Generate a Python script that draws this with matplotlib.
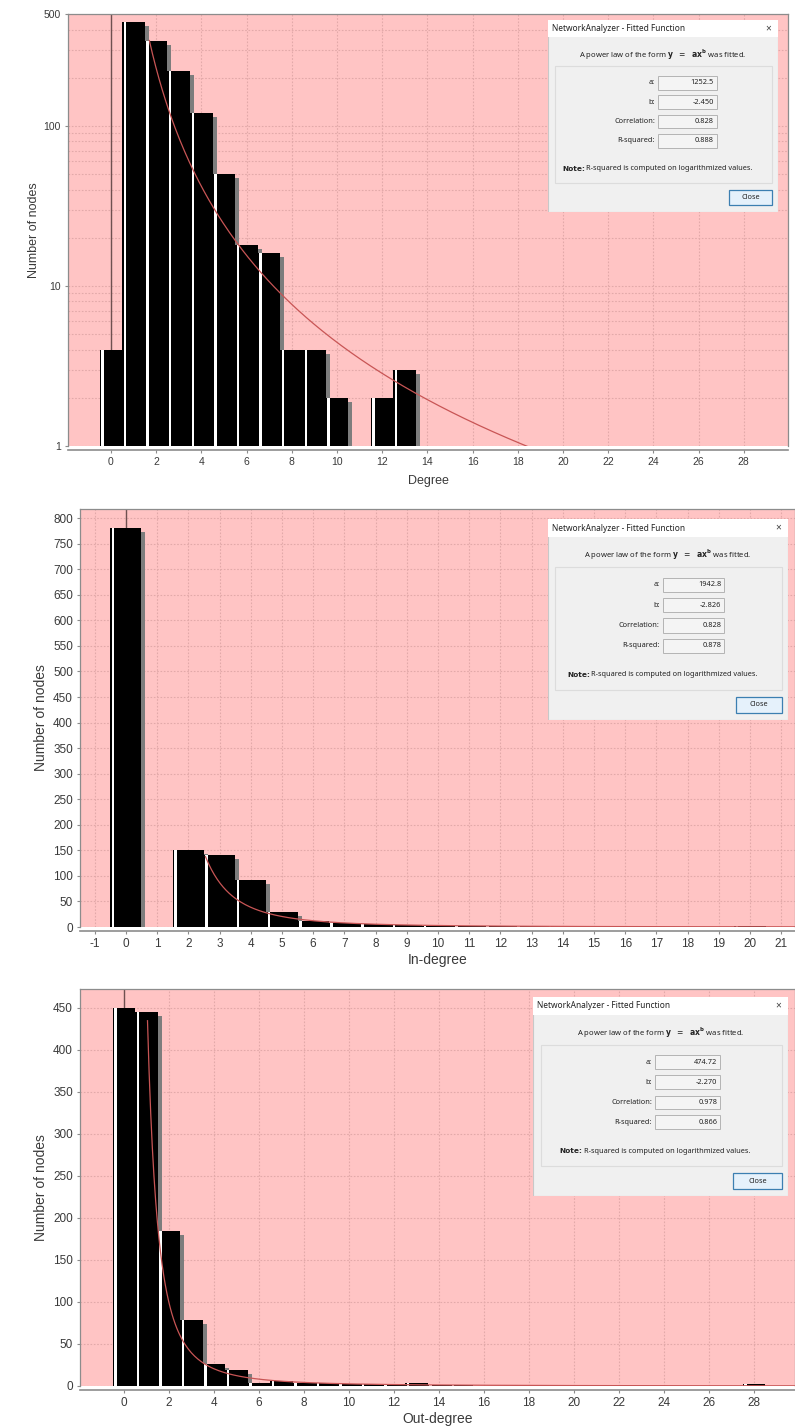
import numpy as np
import matplotlib
matplotlib.use("Agg")
import matplotlib.pyplot as plt
from matplotlib.patches import Rectangle
from matplotlib.transforms import offset_copy
from matplotlib.ticker import FixedLocator, NullFormatter

plt.rcParams['font.family'] = ['Liberation Sans', 'DejaVu Sans']
plt.rcParams['axes.unicode_minus'] = False

# node degree distributions
degree_k = [0, 1, 2, 3, 4, 5, 6, 7, 8, 9, 10, 12, 13]
degree_n = [4, 447, 338, 221, 120, 50, 18, 16, 4, 4, 2, 2, 3]

indeg_k = [0, 2, 3, 4, 5, 6, 7, 8, 9, 10, 11, 12, 13, 14, 20]
indeg_n = [780, 150, 140, 92, 30, 12, 8, 5, 3, 2, 1, 1, 1, 1, 1]

outdeg_k = [0, 1, 2, 3, 4, 5, 6, 7, 8, 9, 10, 11, 12, 13, 14, 15, 28]
outdeg_n = [450, 445, 184, 78, 26, 19, 4, 6, 3, 3, 2, 2, 2, 3, 1, 1, 2]

# power law fits y = a * x^b  (a, b, correlation, r-squared)
fit_degree = (1252.5, -2.450, 0.828, 0.888)
fit_indeg = (1942.8, -2.826, 0.828, 0.878)
fit_outdeg = (474.72, -2.270, 0.978, 0.866)

W, H = 795, 1428
BG = '#ffc4c4'
GRID = '#e2a9a9'
AXC = '#8c8c8c'
TXT = '#3a3a3a'

fig = plt.figure(figsize=(W / 100, H / 100), dpi=100)


def place(left, top, right, bottom):
    return fig.add_axes([left / W, 1 - bottom / H, (right - left) / W, (bottom - top) / H])


def style_axes(ax, tick_size, label_size, xlabel, xpad, ypad):
    ax.set_facecolor(BG)
    for s in ('top', 'right', 'left'):
        ax.spines[s].set_color(AXC)
        ax.spines[s].set_linewidth(0.9)
    ax.spines['bottom'].set_position(('outward', 3))
    ax.spines['bottom'].set_color(AXC)
    ax.spines['bottom'].set_linewidth(1.2)
    ax.tick_params(which='major', length=2, width=0.8, color=AXC, labelsize=tick_size,
                   labelcolor=TXT, pad=3)
    ax.tick_params(which='minor', length=0)
    ax.grid(True, which='major', color=GRID, linestyle=(0, (1.5, 1.5)), linewidth=0.8)
    ax.set_axisbelow(True)
    ax.set_xlabel(xlabel, fontsize=label_size, color=TXT, labelpad=xpad)
    ax.set_ylabel('Number of nodes', fontsize=label_size, color=TXT, labelpad=ypad)


def draw_bars(ax, ks, ns, width_px):
    x0, x1 = ax.get_xlim()
    per_px = (x1 - x0) / width_px
    ks = np.asarray(ks, dtype=float)
    ax.axvline(0, color='#6e5050', lw=1.0, zorder=1.5)
    shadow = ax.bar(ks - 0.5, ns, width=1.0, align='edge', color='#7d7d7d', zorder=2)
    tr = offset_copy(ax.transData, fig=fig, x=4, y=-4, units='dots')
    for p in shadow:
        p.set_transform(tr)
    ax.bar(ks - 0.5, ns, width=1.0, align='edge', color='black', zorder=3)
    ax.bar(ks - 0.5 + 1.5 * per_px, ns, width=2.5 * per_px, align='edge',
           color='white', zorder=4)


def draw_fit(ax, fit, x_start):
    a, b = fit[0], fit[1]
    xs = np.linspace(x_start, ax.get_xlim()[1], 400)
    ax.plot(xs, a * xs ** b, color='#c85555', lw=0.9, zorder=5)


def dialog(left, top, w, h, fit):
    d = fig.add_axes([left / W, 1 - (top + h) / H, w / W, h / H], zorder=10)
    d.set_xlim(0, w)
    d.set_ylim(h, 0)
    d.axis('off')
    d.add_patch(Rectangle((0, 0), w, h, facecolor='#f0f0f0', edgecolor='#c8c8c8', lw=0.8))
    d.add_patch(Rectangle((0, 0), w, 0.09 * h, facecolor='white', edgecolor='none'))
    fs = 5.3
    fam = ['Noto Sans', 'DejaVu Sans']
    d.text(4, 0.045 * h, 'NetworkAnalyzer - Fitted Function', fontsize=fs + 0.7, family=fam,
           color='#222222', va='center', ha='left')
    d.text(w - 10, 0.045 * h, '\u00d7', fontsize=fs + 2, family=fam, color='#444444',
           va='center', ha='center')
    d.text(w / 2, 0.18 * h,
           r'A power law of the form $\mathbf{y}\ \ =\ \ \mathbf{ax}^{\mathbf{b}}$ was fitted.',
           fontsize=fs + 0.2, family=fam, color='#222222', va='center', ha='center')
    d.add_patch(Rectangle((0.03 * w, 0.24 * h), 0.945 * w, 0.61 * h, facecolor='none',
                          edgecolor='#dcdcdc', lw=0.8))
    labels = ['a:', 'b:', 'Correlation:', 'R-squared:']
    values = ['%.1f' % fit[0] if fit[0] > 1000 else '%.2f' % fit[0],
              '%.3f' % fit[1], '%.3f' % fit[2], '%.3f' % fit[3]]
    rows = [0.328, 0.428, 0.53, 0.63]
    fl, fr = 0.478 * w, 0.735 * w
    for lab, val, ry in zip(labels, values, rows):
        y = ry * h
        d.add_patch(Rectangle((fl, y - 0.035 * h), fr - fl, 0.07 * h, facecolor='#f4f4f4',
                              edgecolor='#b4b4b4', lw=0.7))
        d.text(fl - 3, y, lab, fontsize=fs, family=fam, color='#222222', va='center', ha='right')
        d.text(fr - 3, y, val, fontsize=fs, family=fam, color='#222222', va='center', ha='right')
    d.text(w / 2 - 78, 0.775 * h, 'Note:', fontsize=fs, family='DejaVu Sans', weight='bold',
           color='#222222', va='center', ha='right')
    d.text(w / 2 - 77, 0.775 * h, 'R-squared is computed on logarithmized values.',
           fontsize=fs, family=fam, color='#222222', va='center', ha='left')
    d.add_patch(Rectangle((0.785 * w, 0.885 * h), 0.19 * w, 0.08 * h, facecolor='#e5f1fb',
                          edgecolor='#3c7fb1', lw=0.9))
    d.text(0.88 * w, 0.925 * h, 'Close', fontsize=fs, family=fam, color='#222222',
           va='center', ha='center')


# Degree (log scale)
ax1 = place(68, 14, 788, 446)
ax1.set_xlim(-1.9, 29.96)
ax1.set_yscale('log')
ax1.set_ylim(1, 500)
ax1.yaxis.set_major_locator(FixedLocator([1, 10, 100, 500]))
ax1.yaxis.set_major_formatter(plt.FixedFormatter(['1', '10', '100', '500']))
ax1.yaxis.set_minor_locator(FixedLocator([m * 10 ** e for e in range(3) for m in range(2, 10)
                                          if m * 10 ** e < 500]))
ax1.yaxis.set_minor_formatter(NullFormatter())
ax1.set_xticks(np.arange(0, 30, 2))
style_axes(ax1, 7.5, 9, 'Degree', 6, 3)
ax1.grid(True, which='minor', axis='y', color=GRID, linestyle=(0, (1.5, 1.5)), linewidth=0.8)
draw_bars(ax1, degree_k, degree_n, 720)
draw_fit(ax1, fit_degree, 1.7)
dialog(548, 20, 230, 192, fit_degree)

# In-degree
ax2 = place(80, 509, 795, 927)
ax2.set_xlim(-1.47, 21.44)
ax2.set_ylim(0, 818)
ax2.set_xticks(np.arange(-1, 22, 1))
ax2.set_yticks(np.arange(0, 801, 50))
style_axes(ax2, 8.5, 10, 'In-degree', 2, 4)
draw_bars(ax2, indeg_k, indeg_n, 715)
draw_fit(ax2, fit_indeg, 2.55)
dialog(548, 519, 240, 201, fit_indeg)

# Out-degree
ax3 = place(80, 989, 795, 1386)
ax3.set_xlim(-1.96, 29.82)
ax3.set_ylim(0, 472)
ax3.set_xticks(np.arange(0, 30, 2))
ax3.set_yticks(np.arange(0, 451, 50))
style_axes(ax3, 8.5, 10, 'Out-degree', 2, 4)
draw_bars(ax3, outdeg_k, outdeg_n, 715)
draw_fit(ax3, fit_outdeg, 1.04)
dialog(533, 997, 255, 199, fit_outdeg)

fig.savefig('out.png', dpi=100, facecolor='white')
